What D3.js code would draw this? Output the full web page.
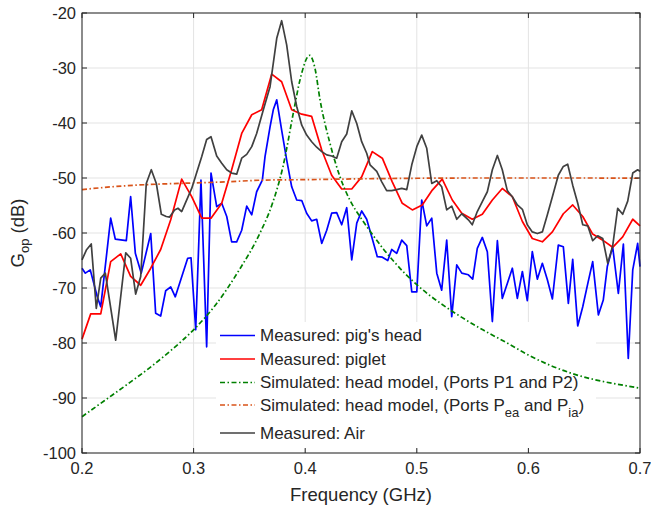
<!DOCTYPE html>
<html>
<head>
<meta charset="utf-8">
<script src="https://cdn.jsdelivr.net/npm/d3@7"></script>
<style>
  body { margin: 0; background: #fff; }
  svg text { font-family: "Liberation Sans", Arial, sans-serif; fill: #262626; }
</style>
</head>
<body>
<div id="chart"></div>
<script>
// Data: [frequency (GHz), gain (dB)]
const pigHead = [[0.200,-66.4],[0.203,-67.3],[0.2074,-66.7],[0.2137,-71.6],[0.2168,-73.4],[0.2257,-57.3],[0.2298,-61.1],[0.2397,-61.4],[0.2436,-53.4],[0.2478,-63.7],[0.2531,-67.3],[0.2616,-60.1],[0.2660,-74.6],[0.2705,-75.1],[0.2750,-70.5],[0.2795,-69.8],[0.2836,-71.6],[0.2947,-64.6],[0.2977,-64.5],[0.3019,-77.6],[0.3066,-50.4],[0.3117,-80.7],[0.3156,-49.1],[0.3207,-55.2],[0.3252,-54.6],[0.3297,-57.0],[0.3341,-61.6],[0.3386,-61.6],[0.3431,-59.5],[0.3476,-55.1],[0.3521,-56.7],[0.3565,-52.5],[0.3616,-50.4],[0.3640,-46.1],[0.3685,-40.7],[0.3714,-37.6],[0.3745,-35.8],[0.3789,-41.3],[0.3834,-46.7],[0.3879,-51.6],[0.3924,-54.0],[0.3969,-54.1],[0.4013,-56.4],[0.4058,-57.8],[0.4103,-57.5],[0.4148,-61.9],[0.4193,-59.5],[0.4237,-56.4],[0.4282,-56.3],[0.4327,-58.5],[0.4372,-55.4],[0.4417,-64.9],[0.4462,-58.2],[0.4506,-56.0],[0.4551,-57.5],[0.4596,-60.7],[0.4646,-64.3],[0.4691,-64.4],[0.4740,-65.0],[0.4775,-63.0],[0.4820,-63.7],[0.4865,-61.3],[0.4910,-62.3],[0.4955,-70.7],[0.5000,-70.7],[0.5044,-54.0],[0.5089,-58.7],[0.5134,-57.3],[0.5179,-67.3],[0.5223,-70.4],[0.5268,-61.3],[0.5313,-75.2],[0.5358,-65.8],[0.5403,-67.3],[0.5462,-67.6],[0.5501,-68.4],[0.5542,-62.8],[0.5587,-60.8],[0.5632,-63.4],[0.5677,-76.1],[0.5722,-61.4],[0.5766,-71.9],[0.5811,-69.2],[0.5856,-66.4],[0.5901,-71.9],[0.5946,-67.0],[0.5990,-72.3],[0.6035,-63.4],[0.6080,-68.4],[0.6125,-65.5],[0.6170,-68.5],[0.6215,-72.0],[0.6268,-62.2],[0.6313,-62.5],[0.6358,-72.8],[0.6397,-64.8],[0.6442,-76.9],[0.6487,-73.4],[0.6532,-69.2],[0.6576,-65.2],[0.6627,-74.9],[0.6671,-72.2],[0.6707,-66.1],[0.6755,-62.5],[0.6806,-71.0],[0.6851,-62.0],[0.6895,-82.8],[0.6935,-66.7],[0.6979,-61.9],[0.7000,-66.1]];

const piglet = [[0.2000,-79.3],[0.2078,-74.7],[0.2168,-74.7],[0.2257,-65.2],[0.2347,-63.8],[0.2436,-67.9],[0.2526,-69.5],[0.2616,-66.4],[0.2705,-63.0],[0.2795,-57.6],[0.2893,-50.2],[0.2983,-53.4],[0.3073,-57.3],[0.3156,-57.3],[0.3252,-54.6],[0.3341,-48.5],[0.3431,-41.9],[0.3521,-38.5],[0.3610,-37.6],[0.3700,-31.1],[0.3789,-32.5],[0.3879,-37.6],[0.3969,-38.4],[0.4058,-38.8],[0.4148,-44.9],[0.4237,-49.5],[0.4327,-52.0],[0.4417,-52.0],[0.4506,-49.8],[0.4601,-45.2],[0.4691,-46.4],[0.4780,-50.7],[0.4870,-54.6],[0.4960,-55.8],[0.5049,-54.9],[0.5139,-52.2],[0.5228,-50.2],[0.5318,-54.0],[0.5403,-56.4],[0.5497,-57.5],[0.5587,-56.6],[0.5677,-54.0],[0.5766,-51.9],[0.5856,-53.4],[0.5946,-57.9],[0.6035,-61.0],[0.6125,-61.6],[0.6215,-59.8],[0.6313,-56.5],[0.6397,-54.9],[0.6487,-57.0],[0.6576,-60.2],[0.6666,-61.3],[0.6755,-62.6],[0.6845,-60.7],[0.6935,-57.5],[0.7000,-58.7]];

const simP1P2 = [[0.20,-93.4],[0.22,-90.5],[0.24,-87.6],[0.26,-84.6],[0.28,-81.3],[0.30,-77.6],[0.32,-73.0],[0.34,-67.0],[0.36,-59.8],[0.37,-55.0],[0.38,-48.0],[0.39,-37.5],[0.3953,-32.2],[0.4040,-27.7],[0.4088,-30.1],[0.4133,-35.8],[0.4222,-43.7],[0.4312,-49.8],[0.44,-54.0],[0.45,-57.3],[0.46,-60.2],[0.47,-62.9],[0.48,-65.3],[0.49,-67.5],[0.50,-69.4],[0.51,-71.1],[0.52,-72.6],[0.53,-74.0],[0.54,-75.3],[0.56,-77.7],[0.58,-79.9],[0.60,-82.2],[0.62,-84.1],[0.64,-85.6],[0.66,-86.7],[0.68,-87.5],[0.70,-88.2]];

const simPeaPia = [[0.20,-52.1],[0.24,-51.4],[0.27,-51.1],[0.30,-50.9],[0.33,-50.7],[0.36,-50.4],[0.40,-50.3],[0.45,-50.15],[0.50,-50.05],[0.55,-50.0],[0.60,-50.0],[0.65,-50.0],[0.70,-50.05]];

const air = [[0.2000,-64.9],[0.2039,-63.1],[0.2083,-62.0],[0.2128,-73.7],[0.2168,-68.2],[0.2209,-67.3],[0.2302,-79.5],[0.2392,-63.6],[0.2436,-64.6],[0.2481,-71.1],[0.2526,-67.9],[0.2576,-51.0],[0.2621,-48.5],[0.2666,-51.0],[0.2711,-56.6],[0.2755,-57.0],[0.2785,-57.1],[0.2830,-55.8],[0.2860,-55.5],[0.2893,-56.1],[0.2983,-51.9],[0.3073,-46.1],[0.3117,-43.0],[0.3156,-42.5],[0.3207,-46.0],[0.3252,-47.3],[0.3297,-48.5],[0.3341,-49.1],[0.3386,-49.3],[0.3431,-46.4],[0.3476,-45.7],[0.3521,-44.3],[0.3565,-41.9],[0.3625,-37.6],[0.3685,-33.4],[0.3745,-24.6],[0.3789,-21.4],[0.3834,-25.8],[0.3879,-32.5],[0.3924,-37.0],[0.3969,-40.4],[0.4013,-42.2],[0.4058,-43.4],[0.4103,-44.4],[0.4148,-45.2],[0.4193,-45.8],[0.4237,-46.0],[0.4282,-46.4],[0.4327,-43.4],[0.4372,-42.0],[0.4417,-37.8],[0.4462,-40.1],[0.4506,-43.4],[0.4551,-45.5],[0.4581,-47.6],[0.4641,-48.8],[0.4686,-50.7],[0.4730,-52.3],[0.4775,-52.3],[0.4820,-52.1],[0.4865,-51.9],[0.4910,-52.1],[0.4955,-47.6],[0.5000,-44.3],[0.5044,-42.2],[0.5089,-44.6],[0.5134,-51.0],[0.5179,-50.5],[0.5223,-51.6],[0.5268,-55.8],[0.5313,-55.1],[0.5358,-57.5],[0.5403,-56.5],[0.5462,-57.6],[0.5497,-58.5],[0.5542,-56.1],[0.5587,-54.3],[0.5632,-52.5],[0.5677,-48.5],[0.5722,-45.9],[0.5766,-48.5],[0.5811,-52.3],[0.5856,-53.4],[0.5901,-54.9],[0.5946,-55.7],[0.5990,-58.5],[0.6035,-59.8],[0.6080,-60.1],[0.6125,-59.8],[0.6170,-56.7],[0.6215,-53.4],[0.6268,-49.5],[0.6313,-47.9],[0.6352,-47.5],[0.6397,-51.3],[0.6442,-54.6],[0.6487,-58.5],[0.6532,-58.7],[0.6576,-61.4],[0.6621,-60.5],[0.6666,-61.0],[0.6711,-65.5],[0.6755,-62.4],[0.6800,-55.5],[0.6845,-56.6],[0.6890,-54.2],[0.6935,-49.1],[0.6979,-48.5],[0.7000,-48.8]];

const xTicks = [0.2, 0.3, 0.4, 0.5, 0.6, 0.7];
const yTicks = [-100, -90, -80, -70, -60, -50, -40, -30, -20];

const width = 651, height = 506;
const margin = {top: 13, right: 11, bottom: 53, left: 82};
const plotW = width - margin.left - margin.right;
const plotH = height - margin.top - margin.bottom;

const svg = d3.select("#chart").append("svg")
    .attr("width", width)
    .attr("height", height);

const g = svg.append("g")
    .attr("transform", `translate(${margin.left},${margin.top})`);

const x = d3.scaleLinear().domain([0.2, 0.7]).range([0, plotW]);
const y = d3.scaleLinear().domain([-100, -20]).range([plotH, 0]);

// Grid
g.append("g")
    .selectAll("line")
    .data(xTicks)
    .join("line")
    .attr("x1", d => x(d)).attr("x2", d => x(d))
    .attr("y1", 0).attr("y2", plotH)
    .attr("stroke", "#e3e3e3");
g.append("g")
    .selectAll("line")
    .data(yTicks)
    .join("line")
    .attr("x1", 0).attr("x2", plotW)
    .attr("y1", d => y(d)).attr("y2", d => y(d))
    .attr("stroke", "#e3e3e3");

// Legend background (sits under the curves like in the figure)
g.append("rect")
    .attr("x", 134).attr("y", 309)
    .attr("width", 380).attr("height", 127)
    .attr("fill", "#fff");

const line = d3.line().x(d => x(d[0])).y(d => y(d[1]));
const smooth = d3.line().x(d => x(d[0])).y(d => y(d[1])).curve(d3.curveMonotoneX);

const series = [
    {data: pigHead, color: "#0000ff", dash: null, gen: line, label: "Measured: pig's head"},
    {data: piglet, color: "#ff0000", dash: null, gen: line, label: "Measured: piglet"},
    {data: simP1P2, color: "#008000", dash: "5,2.5,1.5,2.5", gen: smooth, label: "Simulated: head model, (Ports P1 and P2)"},
    {data: simPeaPia, color: "#d95319", dash: "5,2.5,1.5,2.5", gen: smooth, label: null},
    {data: air, color: "#404040", dash: null, gen: line, label: "Measured: Air"}
];

series.forEach(s => {
    g.append("path")
        .datum(s.data)
        .attr("d", s.gen)
        .attr("fill", "none")
        .attr("stroke", s.color)
        .attr("stroke-width", 1.7)
        .attr("stroke-linejoin", "round")
        .attr("stroke-dasharray", s.dash);
});

// Axes box with inward ticks
const axisColor = "#262626";
g.append("rect")
    .attr("x", 0).attr("y", 0)
    .attr("width", plotW).attr("height", plotH)
    .attr("fill", "none")
    .attr("stroke", axisColor)
    .attr("stroke-width", 1);

const tickLen = 5;
g.append("g").selectAll("line").data(xTicks).join("line")
    .attr("x1", d => x(d)).attr("x2", d => x(d))
    .attr("y1", plotH).attr("y2", plotH - tickLen)
    .attr("stroke", axisColor);
g.append("g").selectAll("line").data(xTicks).join("line")
    .attr("x1", d => x(d)).attr("x2", d => x(d))
    .attr("y1", 0).attr("y2", tickLen)
    .attr("stroke", axisColor);
g.append("g").selectAll("line").data(yTicks).join("line")
    .attr("x1", 0).attr("x2", tickLen)
    .attr("y1", d => y(d)).attr("y2", d => y(d))
    .attr("stroke", axisColor);
g.append("g").selectAll("line").data(yTicks).join("line")
    .attr("x1", plotW).attr("x2", plotW - tickLen)
    .attr("y1", d => y(d)).attr("y2", d => y(d))
    .attr("stroke", axisColor);

// Tick labels
g.append("g").selectAll("text").data(xTicks).join("text")
    .attr("x", d => x(d))
    .attr("y", plotH + 21)
    .attr("text-anchor", "middle")
    .style("font-size", "16.5px")
    .text(d => d3.format(".1f")(d));
g.append("g").selectAll("text").data(yTicks).join("text")
    .attr("x", -6)
    .attr("y", d => y(d))
    .attr("dy", "0.35em")
    .attr("text-anchor", "end")
    .style("font-size", "16.5px")
    .text(d => d);

// Axis labels
svg.append("text")
    .attr("x", margin.left + plotW / 2)
    .attr("y", 501)
    .attr("text-anchor", "middle")
    .style("font-size", "18.5px")
    .text("Frequency (GHz)");

const yl = svg.append("text")
    .attr("transform", `translate(24,${margin.top + plotH / 2}) rotate(-90)`)
    .attr("text-anchor", "middle")
    .style("font-size", "18.5px");
yl.append("tspan").text("G");
yl.append("tspan").attr("dy", 5).style("font-size", "13px").text("op");
yl.append("tspan").attr("dy", -5).text(" (dB)");

// Legend
const rowY = [335.5, 359, 382.5, 405, 433];
const leg = svg.append("g");
series.forEach((s, i) => {
    leg.append("line")
        .attr("x1", 220).attr("x2", 255)
        .attr("y1", rowY[i]).attr("y2", rowY[i])
        .attr("stroke", s.color)
        .attr("stroke-width", 1.7)
        .attr("stroke-dasharray", s.dash);
});
[0, 1, 2, 4].forEach(i => {
    leg.append("text")
        .attr("x", 260)
        .attr("y", rowY[i])
        .attr("dy", "0.35em")
        .style("font-size", "17px")
        .text(series[i].label);
});
const t4 = leg.append("text")
    .attr("x", 260)
    .attr("y", rowY[3])
    .attr("dy", "0.35em")
    .style("font-size", "17px");
t4.append("tspan").text("Simulated: head model, (Ports P");
t4.append("tspan").attr("dy", 6).style("font-size", "13px").text("ea");
t4.append("tspan").attr("dy", -6).text(" and P");
t4.append("tspan").attr("dy", 6).style("font-size", "13px").text("ia");
t4.append("tspan").attr("dy", -6).text(")");
</script>
</body>
</html>
